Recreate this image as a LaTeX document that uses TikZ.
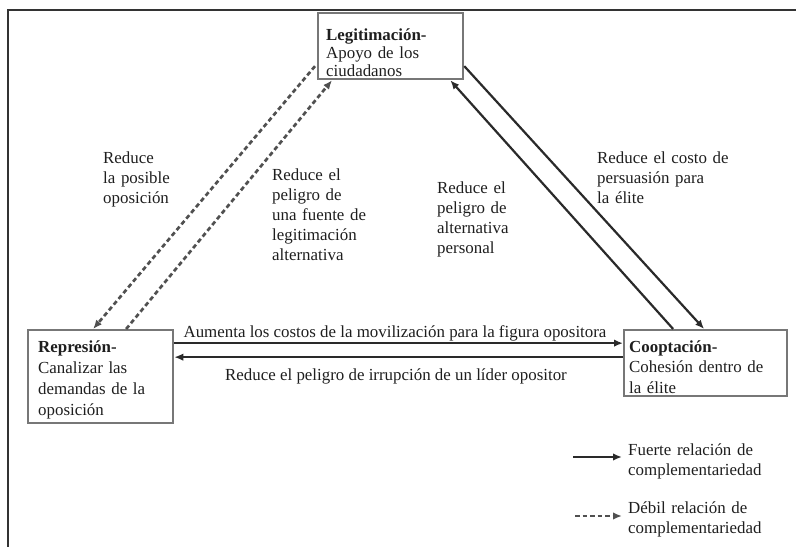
\documentclass[tikz,border=0pt]{standalone}
\usepackage{fontspec}
\setmainfont{Liberation Serif}
\usepackage{xcolor}
\usetikzlibrary{arrows.meta,calc}
\definecolor{framegray}{HTML}{333333}
\definecolor{boxgray}{HTML}{777777}
\definecolor{edgegray}{HTML}{2A2A2A}
\definecolor{dashgray}{HTML}{505050}
\definecolor{inkgray}{HTML}{1E1E1E}
\tikzset{
  actornode/.style={draw=boxgray, line width=2.3pt, anchor=north west, align=left, inner ysep=0pt, text=inkgray, font=\fontsize{16.9}{20.5}\selectfont},
  edgelabel/.style={inner sep=0pt, align=left, text=inkgray, font=\fontsize{16.9}{20}\selectfont},
  edge/.style={-{Latex[length=9pt,width=7.5pt]}, line width=2.2pt, draw=edgegray},
  dashededge/.style={-{Latex[length=9pt,width=7.5pt]}, dash pattern=on 4.5pt off 3pt, line width=2.7pt, draw=dashgray},
  framerule/.style={line width=2.8pt, draw=framegray}
}
\begin{document}
\begin{tikzpicture}[x=1pt, y=-1pt]
  \useasboundingbox (0,0) rectangle (796,547);
  \draw[framerule] (796,10) -- (8,10) -- (8,547);
  \node[actornode, text width=129pt, inner xsep=8pt, text height=27pt, text depth=39pt, font=\fontsize{16.9}{18}\selectfont] (leg) at (317,12) {\textbf{Legitimación-}\\Apoyo de los\\ciudadanos};
  \node[actornode, text width=125pt, inner xsep=10pt, text height=22pt, text depth=71pt, font=\fontsize{16.9}{21}\selectfont] (rep) at (27,329) {\textbf{Represión-}\\Canalizar las\\demandas de la\\oposición};
  \node[actornode, text width=153pt, inner xsep=5pt, text height=22pt, text depth=44pt] (coop) at (623,329) {\textbf{Cooptación-}\\Cohesión dentro de\\la élite};
  \node[edgelabel, anchor=base west, text width=110pt] (lposible) at (103,163) {Reduce\\la posible\\oposición};
  \node[edgelabel, anchor=base west, text width=110pt] (lfuente) at (272,180) {Reduce el\\peligro de\\una fuente de\\legitimación\\alternativa};
  \node[edgelabel, anchor=base west, text width=100pt] (lpersonal) at (437,193) {Reduce el\\peligro de\\alternativa\\personal};
  \node[edgelabel, anchor=base west, text width=160pt] (lcosto) at (597,163) {Reduce el costo de\\persuasión para\\la élite};
  \node[edgelabel, anchor=base] (lmovil) at (395,337) {Aumenta los costos de la movilización para la figura opositora};
  \node[edgelabel, anchor=base] (lirrup) at (396,380) {Reduce el peligro de irrupción de un líder opositor};
  \node[edgelabel, anchor=base west, text width=160pt] (fuerte) at (628,455) {Fuerte relación de\\complementariedad};
  \node[edgelabel, anchor=base west, text width=160pt] (debil) at (628,513) {Débil relación de\\complementariedad};
  \coordinate (fuertestart) at (573,457);
  \coordinate (debilstart) at (575,516);
  \draw[dashededge] ($(leg.west)+(-2,20)$) -- ($(rep.north)+(-7.5,0)$);
  \draw[dashededge] ($(rep.north)+(25.5,0)$) -- ($(leg.south west)+(15,0)$);
  \draw[edge] ($(coop.north)+(-32.5,0)$) -- ($(leg.south east)+(-14,0)$);
  \draw[edge] ($(leg.east)+(0,20)$) -- ($(coop.north)+(-1.5,0)$);
  \draw[edge] ($(rep.east)+(0,-33.5)$) -- ($(coop.west)+(0,-20)$);
  \draw[edge] ($(coop.west)+(0,-6)$) -- ($(rep.east)+(0,-19.5)$);
  \draw[edge, shorten >=6pt] (fuertestart) -- (fuertestart -| fuerte.west);
  \draw[dashededge, shorten >=6pt] (debilstart) -- (debilstart -| debil.west);
\end{tikzpicture}
\end{document}
